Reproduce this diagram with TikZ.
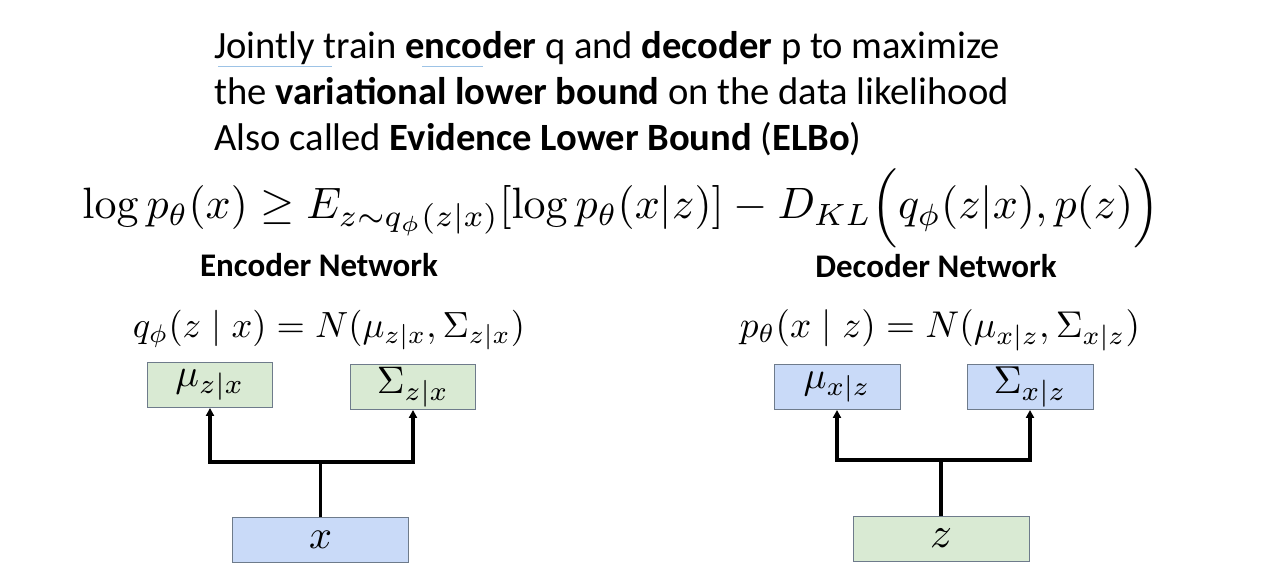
\documentclass[tikz,border=0pt]{standalone}
\usepackage{amsmath,amssymb}
\usepackage[no-math]{fontspec}
\usepackage{graphicx}
\setmainfont{Carlito}
\usetikzlibrary{arrows.meta}
\definecolor{boxgreen}{HTML}{D9EAD3}
\definecolor{boxblue}{HTML}{C9DAF8}
\definecolor{boxedge}{HTML}{6E7B8B}
\definecolor{ulblue}{HTML}{9DC3E6}
\begin{document}
\begin{tikzpicture}[x=1pt,y=-1pt,
  box/.style={draw=boxedge,line width=0.9pt,minimum width=#1,minimum height=45pt,inner sep=0pt},
  greenbox/.style={box=#1,fill=boxgreen},
  bluebox/.style={box=#1,fill=boxblue},
  conn/.style={line width=3.3pt},
  arr/.style={line width=3.3pt,-{Triangle[length=8pt,width=8pt]}},
  toptext/.style={anchor=base west,inner sep=0pt,font=\fontsize{38.6}{42}\selectfont},
  head/.style={anchor=base,inner sep=0pt,font=\fontsize{33}{36}\selectfont\bfseries},
  ul/.style={draw=ulblue,line width=1pt}]
\useasboundingbox (0,0) rectangle (1285,587);
\fill[white] (0,0) rectangle (1285,587);

% top text
\node[toptext] (l1) at (214,58) {Jointly train \textbf{encoder} q and \textbf{decoder} p to maximize};
\node[toptext] (l2) at (214,104) {the \textbf{variational lower bound} on the data likelihood};
\node[toptext] (l3) at (214,150) {Also called \textbf{Evidence Lower Bound} (\textbf{ELBo})};
\coordinate (u1a) at (218,66); \coordinate (u1b) at (332,66);
\coordinate (u2a) at (422,66); \coordinate (u2b) at (483,66);
\draw[ul] (u1a) -- (u1b);
\draw[ul] (u2a) -- (u2b);

% ELBO formula
\node[inner sep=0pt] (elbo) at (621,208) {\resizebox{1077pt}{!}{$\log p_\theta(x) \geq E_{z\sim q_\phi(z|x)}[\log p_\theta(x|z)] - D_{KL}\Bigl(q_\phi(z|x), p(z)\Bigr)$}};

% headings
\node[head] (enc) at (319,276) {Encoder Network};
\node[head] (dec) at (936,277) {Decoder Network};

% small formulas
\node[inner sep=0pt] (qf) at (329,330) {\resizebox{392pt}{!}{$q_\phi(z\mid x) = N(\mu_{z|x},\Sigma_{z|x})$}};
\node[inner sep=0pt] (pf) at (940,330) {\resizebox{400pt}{!}{$p_\theta(x\mid z) = N(\mu_{x|z},\Sigma_{x|z})$}};

% encoder boxes
\node[greenbox=125pt] (mue) at (210,385) {\resizebox{69pt}{!}{$\mu_{z|x}$}};
\node[greenbox=125pt] (sie) at (413,387) {\resizebox{72pt}{!}{$\Sigma_{z|x}$}};
\node[bluebox=176pt] (xb) at (320.5,540) {\resizebox{23pt}{!}{$x$}};
\coordinate (je) at (320.5,462);
\draw[conn] (xb.north) -- (je);
\draw[arr] (je) -| (mue.south);
\draw[arr] (je) -| (sie.south);

% decoder boxes
\node[bluebox=126pt] (mud) at (837,387) {\resizebox{67pt}{!}{$\mu_{x|z}$}};
\node[bluebox=126pt] (sid) at (1030,387) {\resizebox{73pt}{!}{$\Sigma_{x|z}$}};
\node[greenbox=176pt] (zb) at (941,538.5) {\resizebox{22pt}{!}{$z$}};
\coordinate (jd) at (941,460);
\draw[conn] (zb.north) -- (jd);
\draw[arr] (jd) -| (mud.south);
\draw[arr] (jd) -| (sid.south);
\end{tikzpicture}
\end{document}
